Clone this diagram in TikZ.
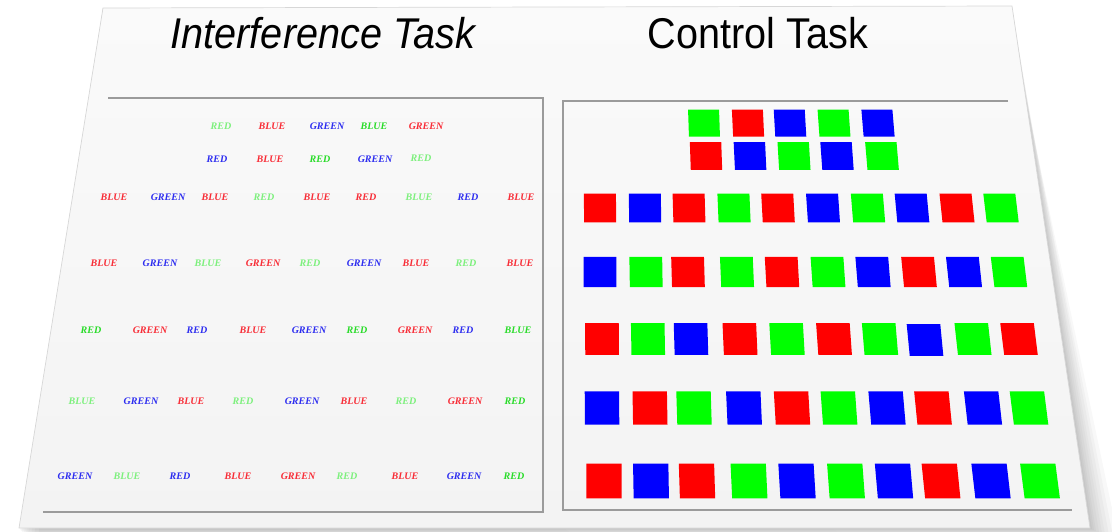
\documentclass[tikz,border=0pt]{standalone}
\usepackage{fontspec}
\usepackage{tikz}

\newfontfamily\titlefont[FakeStretch=0.92]{Liberation Sans}
\newfontfamily\wordfont{Liberation Serif}

\definecolor{tred}{RGB}{248,45,55}
\definecolor{tblue}{RGB}{45,45,240}
\definecolor{tgreen}{RGB}{40,220,40}
\definecolor{tpale}{RGB}{125,240,125}
\definecolor{sqred}{RGB}{255,0,0}
\definecolor{sqgreen}{RGB}{0,255,0}
\definecolor{sqblue}{RGB}{0,0,255}
\definecolor{pagetop}{RGB}{250,250,250}
\definecolor{pagebot}{RGB}{243,243,243}
\definecolor{pageedge}{RGB}{215,215,215}
\definecolor{linegray}{RGB}{155,155,155}

\tikzset{
  word/.style={font=\wordfont\bfseries\itshape\fontsize{5.7}{6}\selectfont,inner sep=0pt},
  title/.style={font=\titlefont\fontsize{24.5}{28}\selectfont,anchor=base,inner sep=0pt},
  tile/.style={draw=none,inner sep=0pt,transform shape},
  frame/.style={draw=linegray,line width=1.1pt},
  haze/.style={fill=black,opacity=0.028},
}

% coloured square, slanted a little more the further right it sits
\newcommand{\ctile}[4]{%
  \pgfmathsetmacro{\tslant}{-(#2-590)*0.13/450}%
  \pgfmathsetmacro{\tw}{31+0.012*(#3-123)}%
  \pgfmathsetmacro{\th}{27+0.022*(#3-123)}%
  \node[tile,fill=#4,xslant=\tslant,minimum width=\tw*0.02cm,minimum height=\th*0.02cm] (#1) at (#2,#3) {};}

\begin{document}
\begin{tikzpicture}[x=0.02cm,y=-0.02cm]

        \useasboundingbox (0,0) rectangle (1112,531);

        % shadow and slide
        \fill[haze] (103,8) -- (1012,7) -- (1092,529) -- (20,530) -- cycle;
        \fill[haze] (103,8) -- (1012,9) -- (1094,530) -- (21,531) -- cycle;
        \fill[haze] (103,8) -- (1013,12) -- (1096,531) -- (22,532) -- cycle;
        \fill[haze] (103,8) -- (1013,16) -- (1099,532) -- (24,533) -- cycle;
        \fill[haze] (103,8) -- (1014,21) -- (1102,533) -- (26,534) -- cycle;
        \fill[haze] (103,8) -- (1014,27) -- (1105,534) -- (28,535) -- cycle;
        \fill[haze] (103,8) -- (1015,34) -- (1109,535) -- (31,536) -- cycle;
        \fill[haze] (103,8) -- (1015,42) -- (1113,536) -- (34,537) -- cycle;
        \fill[haze] (103,8) -- (1016,52) -- (1118,537) -- (38,538) -- cycle;
        \shade[top color=pagetop,bottom color=pagebot,draw=pageedge] (103,8) -- (1012,6) -- (1090,528) -- (19,528) -- cycle;

        % titles
        \node[title] (ititle) at (323,48) {\itshape Interference Task};
        \node[title] (ctitle) at (758,48) {Control Task};

        % panels
        \draw[frame] (108,98) -- (543,98) -- (543,512) -- (43,512);
        \draw[frame] (1008,101) -- (563,101) -- (563,510) -- (1072,510);

        % interference task
        \node[word,text=tpale]  (ia1) at (221,126) {RED};
        \node[word,text=tred]   (ia2) at (272,126) {BLUE};
        \node[word,text=tblue]  (ia3) at (327,126) {GREEN};
        \node[word,text=tgreen] (ia4) at (374,126) {BLUE};
        \node[word,text=tred]   (ia5) at (426,126) {GREEN};

        \node[word,text=tblue]  (ib1) at (217,159) {RED};
        \node[word,text=tred]   (ib2) at (270,159) {BLUE};
        \node[word,text=tgreen] (ib3) at (320,159) {RED};
        \node[word,text=tblue]  (ib4) at (375,159) {GREEN};
        \node[word,text=tpale]  (ib5) at (421,158) {RED};

        \node[word,text=tred]   (ic1) at (114,197) {BLUE};
        \node[word,text=tblue]  (ic2) at (168,197) {GREEN};
        \node[word,text=tred]   (ic3) at (215,197) {BLUE};
        \node[word,text=tpale]  (ic4) at (264,197) {RED};
        \node[word,text=tred]   (ic5) at (317,197) {BLUE};
        \node[word,text=tred]   (ic6) at (366,197) {RED};
        \node[word,text=tpale]  (ic7) at (419,197) {BLUE};
        \node[word,text=tblue]  (ic8) at (468,197) {RED};
        \node[word,text=tred]   (ic9) at (521,197) {BLUE};

        \node[word,text=tred]   (id1) at (104,263) {BLUE};
        \node[word,text=tblue]  (id2) at (160,263) {GREEN};
        \node[word,text=tpale]  (id3) at (208,263) {BLUE};
        \node[word,text=tred]   (id4) at (263,263) {GREEN};
        \node[word,text=tpale]  (id5) at (310,263) {RED};
        \node[word,text=tblue]  (id6) at (364,263) {GREEN};
        \node[word,text=tred]   (id7) at (416,263) {BLUE};
        \node[word,text=tpale]  (id8) at (466,263) {RED};
        \node[word,text=tred]   (id9) at (520,263) {BLUE};

        \node[word,text=tgreen] (ie1) at (91,330) {RED};
        \node[word,text=tred]   (ie2) at (150,330) {GREEN};
        \node[word,text=tblue]  (ie3) at (197,330) {RED};
        \node[word,text=tred]   (ie4) at (253,330) {BLUE};
        \node[word,text=tblue]  (ie5) at (309,330) {GREEN};
        \node[word,text=tgreen] (ie6) at (357,330) {RED};
        \node[word,text=tred]   (ie7) at (415,330) {GREEN};
        \node[word,text=tblue]  (ie8) at (463,330) {RED};
        \node[word,text=tgreen] (ie9) at (518,330) {BLUE};

        \node[word,text=tpale]  (if1) at (82,401) {BLUE};
        \node[word,text=tblue]  (if2) at (141,401) {GREEN};
        \node[word,text=tred]   (if3) at (191,401) {BLUE};
        \node[word,text=tpale]  (if4) at (243,401) {RED};
        \node[word,text=tblue]  (if5) at (302,401) {GREEN};
        \node[word,text=tred]   (if6) at (354,401) {BLUE};
        \node[word,text=tpale]  (if7) at (406,401) {RED};
        \node[word,text=tred]   (if8) at (465,401) {GREEN};
        \node[word,text=tgreen] (if9) at (515,401) {RED};

        \node[word,text=tblue]  (ig1) at (75,476) {GREEN};
        \node[word,text=tpale]  (ig2) at (127,476) {BLUE};
        \node[word,text=tblue]  (ig3) at (180,476) {RED};
        \node[word,text=tred]   (ig4) at (238,476) {BLUE};
        \node[word,text=tred]   (ig5) at (298,476) {GREEN};
        \node[word,text=tpale]  (ig6) at (347,476) {RED};
        \node[word,text=tred]   (ig7) at (405,476) {BLUE};
        \node[word,text=tblue]  (ig8) at (464,476) {GREEN};
        \node[word,text=tgreen] (ig9) at (514,476) {RED};

        % control task
        \ctile{ca1}{704}{123}{sqgreen}
        \ctile{ca2}{748}{123}{sqred}
        \ctile{ca3}{790}{123}{sqblue}
        \ctile{ca4}{834}{123}{sqgreen}
        \ctile{ca5}{878}{123}{sqblue}

        \ctile{cb1}{706}{156}{sqred}
        \ctile{cb2}{750}{156}{sqblue}
        \ctile{cb3}{794}{156}{sqgreen}
        \ctile{cb4}{837}{156}{sqblue}
        \ctile{cb5}{882}{156}{sqgreen}

        \ctile{cc1}{600}{208}{sqred}
        \ctile{cc2}{645}{208}{sqblue}
        \ctile{cc3}{689}{208}{sqred}
        \ctile{cc4}{734}{208}{sqgreen}
        \ctile{cc5}{778}{208}{sqred}
        \ctile{cc6}{823}{208}{sqblue}
        \ctile{cc7}{868}{208}{sqgreen}
        \ctile{cc8}{912}{208}{sqblue}
        \ctile{cc9}{957}{208}{sqred}
        \ctile{cc10}{1001}{208}{sqgreen}

        \ctile{cd1}{600}{272}{sqblue}
        \ctile{cd2}{646}{272}{sqgreen}
        \ctile{cd3}{688}{272}{sqred}
        \ctile{cd4}{737}{272}{sqgreen}
        \ctile{cd5}{782}{272}{sqred}
        \ctile{cd6}{828}{272}{sqgreen}
        \ctile{cd7}{873}{272}{sqblue}
        \ctile{cd8}{919}{272}{sqred}
        \ctile{cd9}{964}{272}{sqblue}
        \ctile{cd10}{1009}{272}{sqgreen}

        \ctile{ce1}{602}{339}{sqred}
        \ctile{ce2}{648}{339}{sqgreen}
        \ctile{ce3}{691}{339}{sqblue}
        \ctile{ce4}{740}{339}{sqred}
        \ctile{ce5}{787}{339}{sqgreen}
        \ctile{ce6}{834}{339}{sqred}
        \ctile{ce7}{880}{339}{sqgreen}
        \ctile{ce8}{925}{340}{sqblue}
        \ctile{ce9}{973}{339}{sqgreen}
        \ctile{ce10}{1019}{339}{sqred}

        \ctile{cf1}{602}{408}{sqblue}
        \ctile{cf2}{650}{408}{sqred}
        \ctile{cf3}{694}{408}{sqgreen}
        \ctile{cf4}{744}{408}{sqblue}
        \ctile{cf5}{792}{408}{sqred}
        \ctile{cf6}{839}{408}{sqgreen}
        \ctile{cf7}{887}{408}{sqblue}
        \ctile{cf8}{933}{408}{sqred}
        \ctile{cf9}{983}{408}{sqblue}
        \ctile{cf10}{1029}{408}{sqgreen}

        \ctile{cg1}{604}{481}{sqred}
        \ctile{cg2}{651}{481}{sqblue}
        \ctile{cg3}{697}{481}{sqred}
        \ctile{cg4}{749}{481}{sqgreen}
        \ctile{cg5}{797}{481}{sqblue}
        \ctile{cg6}{846}{481}{sqgreen}
        \ctile{cg7}{894}{481}{sqblue}
        \ctile{cg8}{941}{481}{sqred}
        \ctile{cg9}{991}{481}{sqblue}
        \ctile{cg10}{1040}{481}{sqgreen}

\end{tikzpicture}
\end{document}
